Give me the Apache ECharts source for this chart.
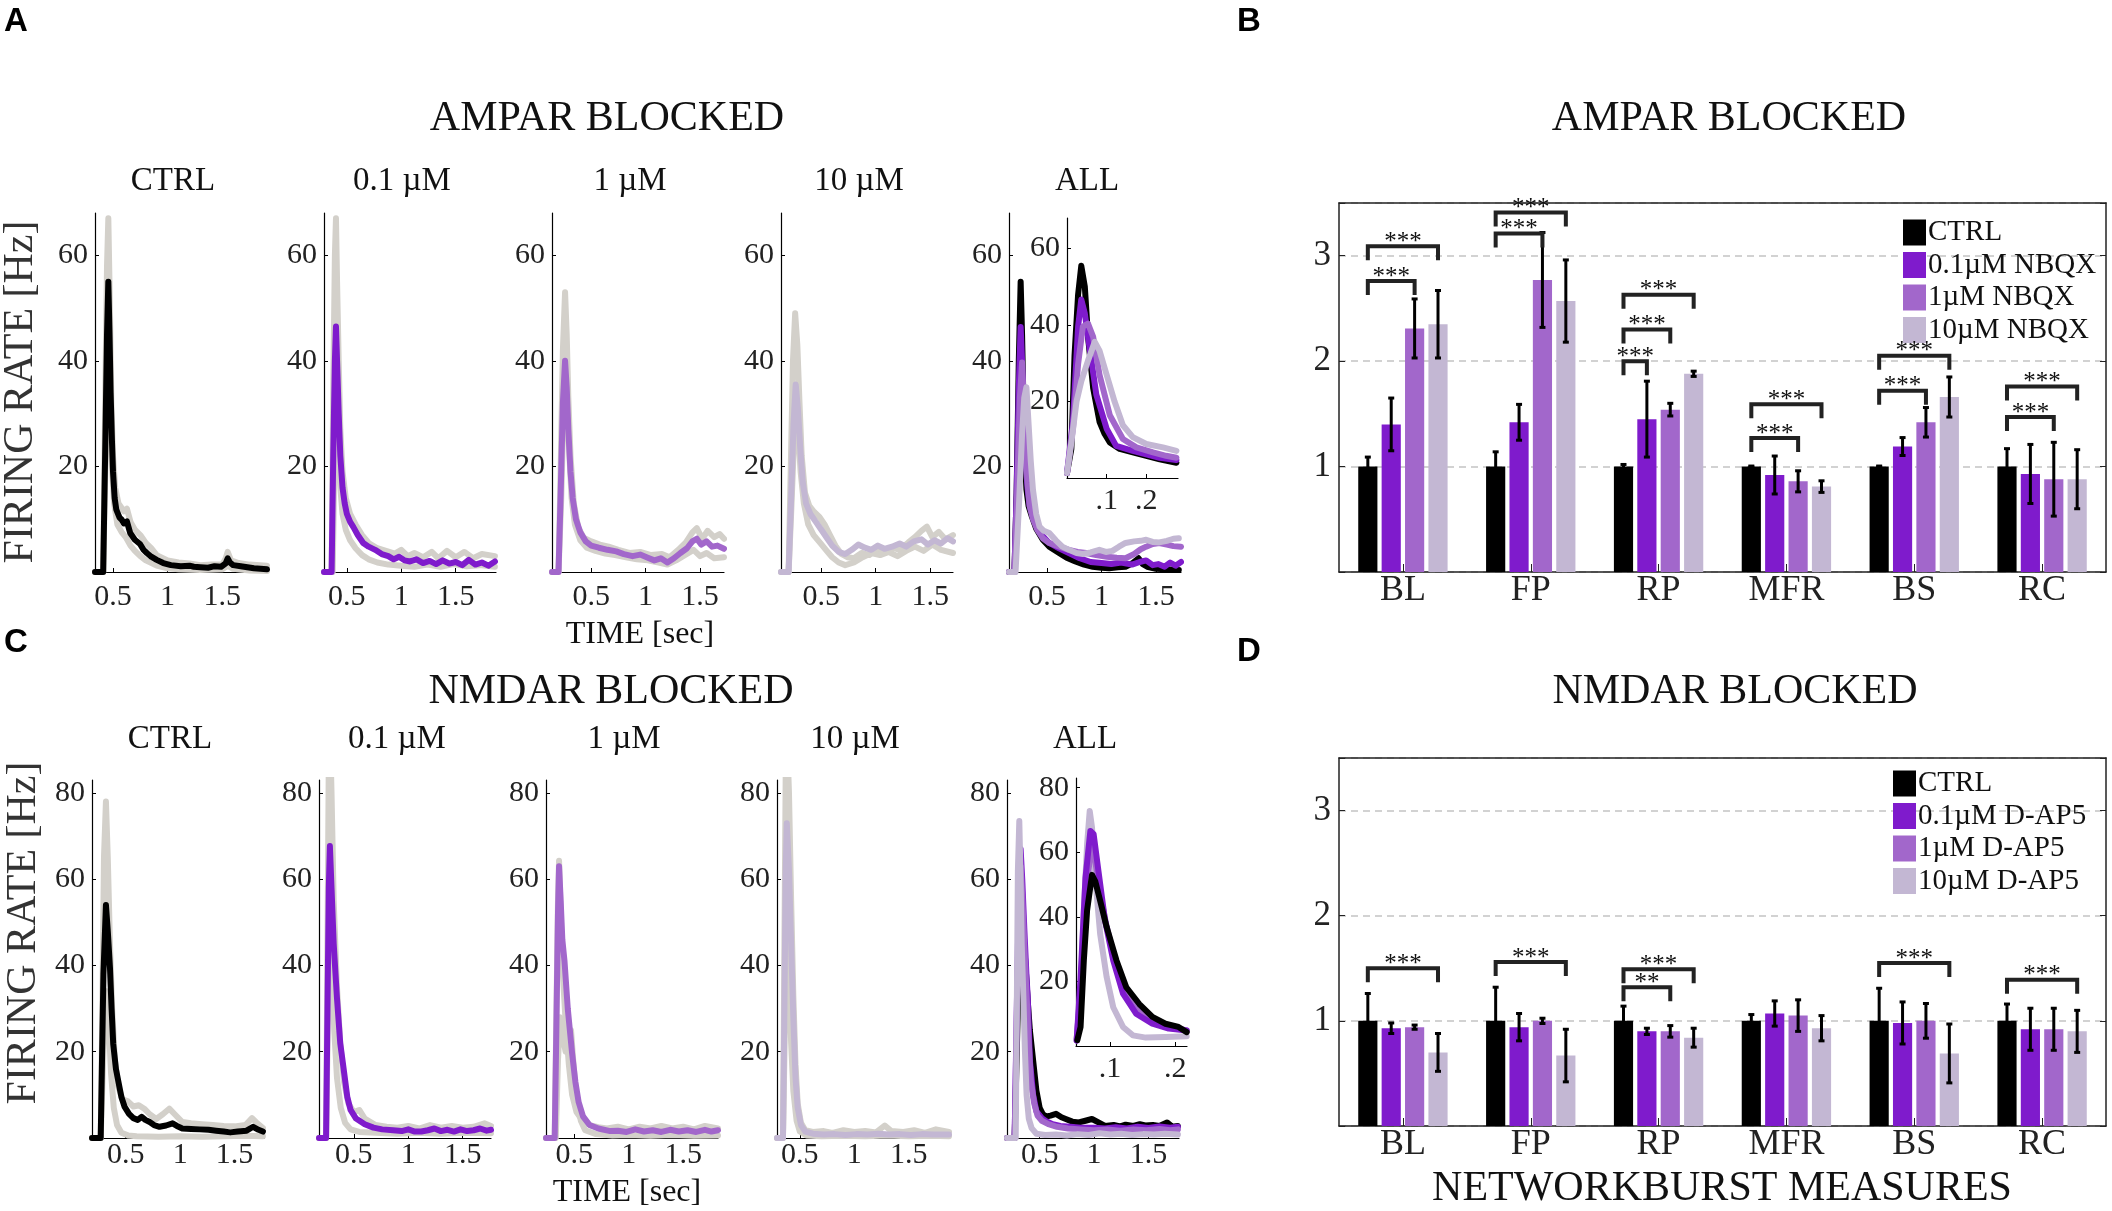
<!DOCTYPE html>
<html><head><meta charset="utf-8">
<script src="https://cdn.jsdelivr.net/npm/echarts@6/dist/echarts.min.js"></script>
<style>html,body{margin:0;padding:0;background:#fff}#c{width:2112px;height:1211px}</style>
</head><body><div id="c"></div>
<script>
// ---------------- DATA ----------------
// Panel A (AMPAR blocked) firing-rate traces [time s, rate Hz]
const ampCtrlMain = [[0.335,0],[0.41,0],[0.43,25],[0.445,45],[0.457,55],[0.468,45],[0.478,34],[0.49,25],[0.5,19],[0.515,14],[0.53,11.8],[0.56,10.3],[0.58,9.9],[0.6,9.2],[0.627,9.6],[0.657,7.4],[0.7,6.1],[0.747,5.3],[0.78,4.2],[0.81,3.6],[0.85,2.9],[0.9,2.3],[0.96,1.7],[1.03,1.3],[1.12,1.1],[1.2,1.2],[1.24,1.0],[1.3,0.9],[1.37,0.8],[1.43,1.1],[1.49,1.0],[1.53,1.6],[1.55,2.6],[1.57,1.8],[1.6,1.3],[1.67,1.1],[1.73,0.9],[1.79,0.7],[1.85,0.6],[1.91,0.5]];
const ampCtrlGray1 = [[0.335,0],[0.41,0],[0.43,35],[0.445,58],[0.457,67],[0.47,52],[0.485,32],[0.5,22],[0.52,16],[0.55,13],[0.6,11.5],[0.627,12],[0.66,9.5],[0.7,8],[0.75,7],[0.8,5.5],[0.85,4.5],[0.9,3.2],[1.0,2.2],[1.1,1.8],[1.2,1.6],[1.3,1.3],[1.4,1.4],[1.5,1.4],[1.53,2.5],[1.55,3.8],[1.58,2.2],[1.65,1.7],[1.75,1.4],[1.91,1.2]];
const ampCtrlGray2 = [[0.335,0],[0.41,0],[0.43,20],[0.45,38],[0.46,42],[0.475,30],[0.49,20],[0.51,13],[0.54,9],[0.58,7.5],[0.62,6.5],[0.66,5],[0.7,4],[0.75,3],[0.8,2.2],[0.9,1.2],[1.0,0.7],[1.1,0.5],[1.3,0.4],[1.5,0.5],[1.55,1.2],[1.6,0.6],[1.75,0.3],[1.91,0.2]];
const amp01Main = [[0.29,0],[0.36,0],[0.375,22],[0.39,40],[0.40,46.5],[0.41,40],[0.425,30],[0.44,22],[0.46,16],[0.48,13],[0.5,11],[0.53,9.5],[0.56,8.5],[0.6,7],[0.65,5.5],[0.7,4.8],[0.76,4.2],[0.82,3.4],[0.88,3.0],[0.93,2.4],[0.98,2.9],[1.03,2.2],[1.08,2.0],[1.14,2.4],[1.2,1.7],[1.26,2.1],[1.32,1.5],[1.38,2.2],[1.44,1.6],[1.5,1.9],[1.56,1.3],[1.62,2.3],[1.68,1.4],[1.74,1.8],[1.8,1.2],[1.86,2.0]];
const amp01Gray1 = [[0.29,0],[0.36,0],[0.375,35],[0.39,60],[0.40,67],[0.41,55],[0.425,40],[0.44,27],[0.46,19],[0.49,14],[0.53,11],[0.58,9],[0.64,7],[0.7,5.5],[0.78,4.5],[0.86,4],[0.94,3.5],[1.0,4.2],[1.06,3],[1.12,3.6],[1.2,2.8],[1.28,3.8],[1.34,2.6],[1.42,4],[1.5,2.8],[1.58,3.8],[1.66,2.6],[1.74,3.4],[1.86,3.0]];
const amp01Gray2 = [[0.29,0],[0.37,0],[0.385,20],[0.4,36],[0.41,33],[0.425,24],[0.44,16],[0.46,11],[0.49,8],[0.53,6],[0.58,4.5],[0.64,3.2],[0.7,2.4],[0.78,1.8],[0.88,1.4],[1.0,1.2],[1.12,1.0],[1.24,1.4],[1.36,1.0],[1.48,1.5],[1.6,1.1],[1.72,1.3],[1.86,1.0]];
const amp1Main = [[0.14,0],[0.2,0],[0.22,15],[0.24,32],[0.26,40],[0.275,35],[0.29,27],[0.31,19],[0.33,14],[0.36,10],[0.4,7.5],[0.45,5.8],[0.5,5],[0.57,4.6],[0.65,4.2],[0.73,3.9],[0.8,3.4],[0.88,3.0],[0.95,3.3],[1.02,2.7],[1.08,2.2],[1.14,2.6],[1.2,1.8],[1.26,2.6],[1.32,3.6],[1.38,4.5],[1.43,5.8],[1.47,6.3],[1.51,5.2],[1.56,5.8],[1.61,4.8],[1.66,5.0],[1.72,4.4]];
const amp1Gray1 = [[0.14,0],[0.2,0],[0.22,20],[0.24,42],[0.26,53],[0.275,45],[0.29,33],[0.31,22],[0.34,13],[0.38,8.5],[0.43,6.5],[0.5,5.8],[0.58,5.2],[0.66,4.8],[0.75,4.2],[0.85,3.6],[0.95,3.8],[1.05,3.2],[1.15,3.4],[1.22,2.8],[1.3,4.2],[1.37,5.6],[1.43,7.5],[1.47,8.3],[1.52,6.3],[1.57,7.8],[1.63,6.6],[1.68,7.2],[1.72,6.3]];
const amp1Gray2 = [[0.14,0],[0.2,0],[0.225,14],[0.245,30],[0.26,37],[0.28,31],[0.3,22],[0.32,14],[0.35,9],[0.4,6],[0.46,4.6],[0.54,4],[0.63,3.5],[0.72,3.2],[0.82,2.8],[0.92,2.4],[1.02,2.2],[1.12,1.8],[1.2,1.4],[1.28,2.2],[1.36,3.2],[1.44,4.2],[1.5,3.0],[1.56,3.6],[1.63,2.6],[1.72,2.8]];
const amp10Main = [[0.13,0],[0.2,0],[0.22,12],[0.245,28],[0.265,35.5],[0.285,31],[0.305,24],[0.33,17],[0.36,13],[0.4,11],[0.45,9.5],[0.5,8],[0.55,6.5],[0.6,5],[0.66,3.8],[0.72,3.4],[0.78,4.2],[0.84,5.2],[0.9,4.6],[0.96,4.2],[1.02,5.0],[1.08,4.4],[1.15,4.8],[1.22,5.4],[1.28,4.8],[1.35,5.8],[1.42,6.2],[1.48,5.2],[1.54,6.0],[1.6,5.4],[1.66,6.4],[1.71,5.8]];
const amp10Gray1 = [[0.13,0],[0.2,0],[0.22,20],[0.24,40],[0.26,49],[0.28,43],[0.3,32],[0.32,22],[0.35,15],[0.39,12.5],[0.43,11.5],[0.48,10.5],[0.53,9],[0.58,7],[0.63,5],[0.68,3.5],[0.74,2.8],[0.8,2.6],[0.87,3.6],[0.94,3.2],[1.0,4.2],[1.08,3.6],[1.15,4.6],[1.22,4.2],[1.3,5.6],[1.36,6.6],[1.42,7.8],[1.47,8.6],[1.52,6.6],[1.58,7.6],[1.64,6.2],[1.71,7.0]];
const amp10Gray2 = [[0.13,0],[0.2,0],[0.225,12],[0.25,25],[0.27,30],[0.29,26],[0.31,19],[0.34,13],[0.38,9],[0.43,7],[0.49,5.5],[0.55,4],[0.6,2.8],[0.66,1.8],[0.72,1.3],[0.8,1.8],[0.88,2.8],[0.96,3.6],[1.04,3.2],[1.12,3.8],[1.2,3.0],[1.28,4.0],[1.36,4.8],[1.44,4.0],[1.52,5.2],[1.6,4.2],[1.71,3.6]];
const ampAllCtrl = [[0.15,0],[0.2,0],[0.22,15],[0.24,40],[0.257,55],[0.27,45],[0.285,30],[0.3,20],[0.31,15.6],[0.33,12.5],[0.36,10.5],[0.4,8.2],[0.46,6.1],[0.52,4.8],[0.61,3.6],[0.68,2.7],[0.76,2.0],[0.84,1.4],[0.92,1.0],[1.0,0.8],[1.07,0.7],[1.15,0.9],[1.22,1.0],[1.28,1.6],[1.34,2.6],[1.38,1.5],[1.42,1.0],[1.5,0.6],[1.6,0.5],[1.71,0.4]];
const ampAll01 = [[0.15,0],[0.2,0],[0.22,15],[0.24,35],[0.257,46.4],[0.27,40],[0.285,30],[0.3,22],[0.32,16],[0.34,12.5],[0.37,10.5],[0.41,8.5],[0.46,6.8],[0.52,5.5],[0.61,4.5],[0.7,3.6],[0.8,2.6],[0.9,1.9],[1.0,1.7],[1.09,1.5],[1.18,1.8],[1.28,1.4],[1.35,1.9],[1.41,2.2],[1.47,1.3],[1.52,1.5],[1.58,1.0],[1.63,1.8],[1.68,1.2],[1.73,1.9]];
const ampAll1 = [[0.15,0],[0.2,0],[0.225,15],[0.25,33],[0.27,39.7],[0.285,33],[0.3,25],[0.32,17],[0.34,12.5],[0.37,10],[0.41,8],[0.46,6.4],[0.52,5.5],[0.61,4.8],[0.7,4.2],[0.78,3.8],[0.86,3.6],[0.95,3.2],[1.05,2.9],[1.14,2.7],[1.22,2.6],[1.3,3.4],[1.36,4.3],[1.41,4.8],[1.47,5.3],[1.53,5.5],[1.6,5.2],[1.66,4.9],[1.73,4.8]];
const ampAll10 = [[0.15,0],[0.21,0],[0.24,12],[0.27,26],[0.29,33],[0.31,35],[0.33,28],[0.35,21],[0.37,15.6],[0.4,11],[0.43,8.6],[0.47,7.8],[0.52,7.4],[0.58,6],[0.64,4.8],[0.7,4.2],[0.77,3.6],[0.83,3.4],[0.9,3.7],[0.98,4.2],[1.04,3.8],[1.1,4.0],[1.16,4.8],[1.22,5.5],[1.3,5.8],[1.36,5.9],[1.41,6.1],[1.47,5.7],[1.53,5.6],[1.6,5.9],[1.66,6.3],[1.71,6.4]];
const ampInsetCtrl = [[0,1.3],[0.011,7.6],[0.019,32],[0.028,48],[0.036,55.5],[0.045,50],[0.053,37],[0.066,23.5],[0.082,14.7],[0.095,11.5],[0.108,9.3],[0.133,7.6],[0.166,6.7],[0.2,5.8],[0.234,4.9],[0.276,4]];
const ampInset01 = [[0,1.3],[0.015,14.7],[0.028,39.6],[0.036,46.7],[0.045,43],[0.057,34],[0.074,21.8],[0.1,12.9],[0.124,8.4],[0.166,7.1],[0.2,6.2],[0.234,5.3],[0.276,4.7]];
const ampInset1 = [[0,1.3],[0.015,12.9],[0.028,29.8],[0.04,39.6],[0.053,40.4],[0.066,36.9],[0.082,27],[0.108,16.4],[0.141,10.2],[0.175,8],[0.217,6.7],[0.25,5.8],[0.276,5.3]];
const ampInset10 = [[0,1.3],[0.011,9.3],[0.024,20],[0.036,25.3],[0.053,30.7],[0.07,35.6],[0.082,33.3],[0.1,27],[0.12,20],[0.141,13.8],[0.166,10.7],[0.2,8.9],[0.242,8],[0.276,7.1]];

// Panel C (NMDAR blocked)
const nmdCtrlMain = [[0.19,0],[0.27,0],[0.28,15],[0.295,38],[0.318,54],[0.335,48],[0.355,39.5],[0.37,30],[0.385,21.8],[0.41,16],[0.43,13.4],[0.46,9.5],[0.49,7.2],[0.53,5.6],[0.57,4.6],[0.61,4.2],[0.646,4.9],[0.68,4.2],[0.72,3.7],[0.76,3.0],[0.81,2.6],[0.87,2.9],[0.93,3.4],[0.97,2.8],[1.02,2.2],[1.1,2.1],[1.18,2.0],[1.26,1.9],[1.33,1.7],[1.4,1.5],[1.46,1.3],[1.53,1.5],[1.61,1.7],[1.67,2.6],[1.72,1.9],[1.76,1.5]];
const nmdCtrlGray1 = [[0.19,0],[0.27,0],[0.285,30],[0.3,65],[0.318,78],[0.335,65],[0.355,45],[0.375,30],[0.4,18],[0.43,12],[0.47,9],[0.52,8.5],[0.57,7.3],[0.62,7.6],[0.67,6.8],[0.72,5.5],[0.78,4.4],[0.84,5.5],[0.9,6.8],[0.95,5.5],[1.02,3.7],[1.1,3.4],[1.2,3.2],[1.3,3.0],[1.4,2.8],[1.5,2.7],[1.6,3.0],[1.66,4.6],[1.7,3.6],[1.76,2.3]];
const nmdCtrlGray2 = [[0.19,0],[0.27,0],[0.285,12],[0.305,28],[0.325,34],[0.345,26],[0.365,15],[0.39,7],[0.42,3],[0.46,1.2],[0.52,0.6],[0.6,0.4],[0.8,0.3],[1.0,0.4],[1.2,0.3],[1.4,0.4],[1.6,0.5],[1.76,0.4]];
const nmd01Main = [[0.18,0],[0.245,0],[0.258,30],[0.27,58],[0.28,67.7],[0.295,58],[0.315,45],[0.345,32.5],[0.375,22],[0.41,15.3],[0.44,9.5],[0.47,6.5],[0.52,4.5],[0.6,3.2],[0.68,2.4],[0.76,2.0],[0.86,1.8],[0.94,1.6],[1.0,2.0],[1.06,1.5],[1.12,1.5],[1.18,1.8],[1.24,2.2],[1.3,1.6],[1.36,1.9],[1.42,1.5],[1.48,2.0],[1.54,1.6],[1.6,1.8],[1.66,2.2],[1.72,1.7],[1.76,1.9]];
const nmd01Gray1 = [[0.18,0],[0.245,0],[0.258,45],[0.27,88],[0.28,96],[0.295,80],[0.315,55],[0.345,35],[0.375,22],[0.41,13],[0.45,8],[0.5,6],[0.55,6.5],[0.6,4.5],[0.7,3],[0.8,2.6],[0.9,2.4],[1.0,2.8],[1.1,2.2],[1.2,3.0],[1.3,2.4],[1.4,2.8],[1.5,2.4],[1.6,2.6],[1.7,3.4],[1.76,2.8]];
const nmd01Gray2 = [[0.18,0],[0.245,0],[0.26,25],[0.275,48],[0.285,52],[0.3,40],[0.32,25],[0.345,14],[0.38,7],[0.42,3.5],[0.47,2],[0.55,1.4],[0.7,1.2],[0.9,1.0],[1.1,1.2],[1.3,1.0],[1.5,1.2],[1.76,1.1]];
const nmd1Main = [[0.24,0],[0.32,0],[0.335,25],[0.35,52],[0.36,63],[0.375,55],[0.39,46],[0.41,41],[0.44,30],[0.48,19.6],[0.51,13],[0.54,8.3],[0.58,5],[0.64,3],[0.72,2.2],[0.83,1.6],[0.9,1.7],[0.98,1.4],[1.06,2.0],[1.14,1.5],[1.22,1.8],[1.3,1.4],[1.38,1.9],[1.46,1.5],[1.54,1.8],[1.62,1.4],[1.7,1.9],[1.76,1.5],[1.82,1.8]];
const nmd1Gray1 = [[0.24,0],[0.32,0],[0.335,28],[0.35,55],[0.36,64.3],[0.375,52],[0.395,38],[0.42,27],[0.45,17],[0.48,10],[0.52,6],[0.57,4.2],[0.64,3],[0.72,2.5],[0.8,2.2],[0.9,2.6],[1.0,2.0],[1.1,2.6],[1.2,2.2],[1.3,2.8],[1.4,2.2],[1.5,2.6],[1.6,2.0],[1.7,2.8],[1.82,2.2]];
const nmd1Gray2 = [[0.24,0],[0.33,0],[0.35,18],[0.37,28],[0.39,24],[0.42,20],[0.45,24],[0.47,25],[0.49,18],[0.52,9],[0.56,4],[0.6,1.8],[0.7,0.9],[0.85,0.6],[1.0,0.7],[1.2,0.5],[1.4,0.7],[1.6,0.5],[1.82,0.6]];
const nmd10Main = [[0.29,0],[0.345,0],[0.358,30],[0.37,62],[0.38,73],[0.4,62],[0.42,45],[0.44,28],[0.46,14],[0.48,7],[0.51,3],[0.55,1.5],[0.62,1.0],[0.72,0.8],[0.82,0.9],[0.92,0.7],[1.02,0.9],[1.12,0.8],[1.22,1.0],[1.32,0.8],[1.42,0.9],[1.52,0.7],[1.62,0.9],[1.72,0.8],[1.87,0.8]];
const nmd10Gray1 = [[0.29,0],[0.345,0],[0.358,45],[0.37,85],[0.38,95],[0.4,80],[0.42,55],[0.44,33],[0.46,17],[0.48,8],[0.51,3.5],[0.55,1.8],[0.62,1.4],[0.72,1.6],[0.8,1.2],[0.9,1.8],[1.0,1.4],[1.1,1.6],[1.2,1.3],[1.28,2.9],[1.34,1.6],[1.45,1.4],[1.55,1.8],[1.65,1.2],[1.75,2.0],[1.87,1.4]];
const nmd10Gray2 = [[0.29,0],[0.345,0],[0.36,22],[0.375,45],[0.385,50],[0.4,38],[0.42,22],[0.44,11],[0.47,4],[0.5,1.5],[0.56,0.6],[0.7,0.4],[0.9,0.5],[1.1,0.4],[1.3,0.6],[1.5,0.4],[1.7,0.5],[1.87,0.4]];
const nmdAllCtrl = [[0.2,0],[0.27,0],[0.29,20],[0.31,42],[0.33,53],[0.35,48],[0.37,40],[0.39,32],[0.41,25],[0.44,18],[0.47,11],[0.5,7],[0.53,5.5],[0.56,5],[0.6,5.2],[0.65,5.6],[0.7,4.8],[0.74,4.4],[0.8,3.8],[0.86,3.6],[0.92,4.0],[0.98,4.4],[1.04,3.6],[1.1,2.8],[1.18,3.0],[1.24,2.7],[1.29,3.1],[1.36,2.8],[1.42,3.2],[1.47,2.9],[1.54,3.0],[1.6,2.8],[1.67,3.6],[1.72,2.6],[1.77,2.8]];
const nmdAll01 = [[0.2,0],[0.27,0],[0.29,30],[0.31,58],[0.325,67],[0.34,60],[0.36,48],[0.38,37],[0.39,33],[0.41,18],[0.44,10],[0.47,6.2],[0.52,4.6],[0.56,3.9],[0.62,3.2],[0.69,2.8],[0.78,2.6],[0.88,2.4],[1.0,2.4],[1.1,2.2],[1.2,2.5],[1.3,2.2],[1.4,2.6],[1.5,2.3],[1.6,2.7],[1.7,2.4],[1.77,2.6]];
const nmdAll1 = [[0.2,0],[0.27,0],[0.29,28],[0.31,54],[0.325,63],[0.34,56],[0.36,44],[0.38,33],[0.4,22],[0.42,13],[0.45,8],[0.48,5.2],[0.52,4],[0.58,3.2],[0.66,2.6],[0.76,2.2],[0.88,2.0],[1.0,1.8],[1.12,2.0],[1.24,1.7],[1.36,2.0],[1.48,1.8],[1.6,2.1],[1.7,1.8],[1.77,2.0]];
const nmdAll10 = [[0.2,0],[0.28,0],[0.29,30],[0.3,62],[0.313,73.5],[0.325,60],[0.335,45],[0.35,33],[0.365,20],[0.38,10],[0.4,4.5],[0.426,2.3],[0.47,1.0],[0.55,0.7],[0.65,0.8],[0.75,0.6],[0.85,0.9],[0.95,0.7],[1.05,1.1],[1.15,0.8],[1.25,1.0],[1.35,0.7],[1.45,0.9],[1.55,0.8],[1.65,1.0],[1.77,0.8]];
const nmdInsetCtrl = [[0.05,1.8],[0.055,5.9],[0.06,26.5],[0.065,42],[0.0725,53],[0.0775,51],[0.085,45],[0.095,36.8],[0.11,26.5],[0.125,18.2],[0.145,13],[0.165,9],[0.185,6.9],[0.205,5.9],[0.2175,4.3]];
const nmdInset01 = [[0.049,1.7],[0.055,21],[0.0625,52],[0.07,66.6],[0.075,65.6],[0.0825,54],[0.0925,38.8],[0.105,26.5],[0.12,16.2],[0.14,10],[0.165,6.9],[0.19,5.4],[0.2175,4.8]];
const nmdInset1 = [[0.049,1.7],[0.055,18],[0.063,45],[0.071,62.5],[0.077,58],[0.085,47],[0.095,37],[0.105,28.5],[0.125,17.2],[0.145,11],[0.175,6.9],[0.2175,4.8]];
const nmdInset10 = [[0.049,2.3],[0.055,16],[0.06,42],[0.065,62.5],[0.069,72.8],[0.0725,67.7],[0.0775,52],[0.085,34.7],[0.095,21.3],[0.105,12],[0.12,5.9],[0.135,3.3],[0.155,2.6],[0.185,2.8],[0.2175,3]];

// Axis ranges and tick labels
const subTitles = ['CTRL','0.1 µM','1 µM','10 µM','ALL'];
const ampXRanges = [[0.335,1.91],[0.29,1.87],[0.14,1.72],[0.13,1.71],[0.15,1.73]];
const nmdXRanges = [[0.19,1.77],[0.18,1.76],[0.24,1.82],[0.29,1.87],[0.2,1.78]];
const ampYMax = 68, nmdYMax = 83;
const timeTicks = [0.5, 1, 1.5];
const ampRateTicks = [20, 40, 60];
const nmdRateTicks = [20, 40, 60, 80];
const insetTimeTicks = [0.1, 0.2];
const ampInsetXRange = [0, 0.28];
const nmdInsetXRange = [0.048, 0.218];

// Panels B / D : network burst measures (normalised to CTRL)
const CATS = ['BL','FP','RP','MFR','BS','RC'];
const ampNames = ['CTRL','0.1µM NBQX','1µM NBQX','10µM NBQX'];
const nmdNames = ['CTRL','0.1µM D-AP5','1µM D-AP5','10µM D-AP5'];
const ampCtrl = [1,1,1,1,1,1];
const amp01   = [1.40,1.42,1.45,0.92,1.19,0.93];
const amp1    = [2.31,2.77,1.54,0.86,1.42,0.88];
const amp10   = [2.35,2.57,1.88,0.81,1.66,0.88];
const ampCtrlErr = [0.09,0.14,0.02,0.005,0.005,0.17];
const amp01Err   = [0.25,0.17,0.36,0.18,0.085,0.28];
const amp1Err    = [0.28,0.45,0.06,0.10,0.14,0.35];
const amp10Err   = [0.32,0.39,0.025,0.055,0.19,0.28];
const nmdCtrl = [1,1,1,1,1,1];
const nmd01   = [0.93,0.94,0.90,1.07,0.98,0.92];
const nmd1    = [0.94,1.00,0.90,1.05,1.00,0.92];
const nmd10   = [0.70,0.67,0.84,0.93,0.69,0.90];
const nmdCtrlErr = [0.26,0.32,0.14,0.06,0.31,0.16];
const nmd01Err   = [0.05,0.13,0.03,0.12,0.20,0.20];
const nmd1Err    = [0.02,0.025,0.055,0.15,0.165,0.20];
const nmd10Err   = [0.18,0.25,0.09,0.12,0.28,0.20];
const barYTicks = [1, 2, 3];
const barYMax = 3.5;
// significance brackets: [category, fromBar, toBar, level, label]
const ampBrackets = [[0,0,2,2.76,'***'],[0,0,3,3.09,'***'],[1,0,2,3.21,'***'],[1,0,3,3.41,'***'],[2,0,1,2.00,'***'],[2,0,2,2.30,'***'],[2,0,3,2.63,'***'],[3,0,2,1.27,'***'],[3,0,3,1.59,'***'],[4,0,2,1.72,'***'],[4,0,3,2.05,'***'],[5,0,2,1.47,'***'],[5,0,3,1.76,'***']];
const nmdBrackets = [[0,0,3,1.50,'***'],[1,0,3,1.56,'***'],[2,0,2,1.32,'**'],[2,0,3,1.49,'***'],[4,0,3,1.55,'***'],[5,0,3,1.39,'***']];

// ---------------- STYLE / LAYOUT ----------------
const FONT = "'Liberation Serif','Times New Roman',Times,serif";
const C_BLACK = '#000000', C_P1 = '#7F1BCC', C_P2 = '#A267CB', C_P3 = '#C3B7D3', C_GRAY = '#D3D0CA';
const COLORS = [C_BLACK, C_P1, C_P2, C_P3];
const BAR_FRAC = 0.15, BAR_GAP = 0.22;

const grids = [], xAxes = [], yAxes = [], series = [];
function addGrid(l, t, w, h) { grids.push({left:l, top:t, width:w, height:h, containLabel:false, outerBoundsMode:'none'}); return grids.length - 1; }

function addLinePanel(l, t, w, h, xr, ymax, xTicks, yTicks, curves, o) {
  const gi = addGrid(l, t, w, h);
  const xa = {type:'value', gridIndex:gi, min:xr[0], max:xr[1],
    axisLine:{show:true, onZero:false, lineStyle:{color:'#000', width:1.2}},
    axisTick:{show:true, inside:true, length:4, customValues:xTicks, lineStyle:{color:'#000'}},
    axisLabel:{show:true, customValues:xTicks, fontFamily:FONT, fontSize:30, color:'#222', margin:o.xMargin},
    splitLine:{show:false}};
  if (o.xFmt) xa.axisLabel.formatter = o.xFmt;
  xAxes.push(xa);
  yAxes.push({type:'value', gridIndex:gi, min:0, max:ymax,
    axisLine:{show:true, onZero:false, lineStyle:{color:'#000', width:1.2}},
    axisTick:{show:true, inside:true, length:4, customValues:yTicks, lineStyle:{color:'#000'}},
    axisLabel:{show:true, customValues:yTicks, fontFamily:FONT, fontSize:30, color:'#222', margin:7},
    splitLine:{show:false}});
  const xi = xAxes.length - 1, yi = yAxes.length - 1;
  curves.forEach(c => series.push({type:'line', xAxisIndex:xi, yAxisIndex:yi, data:c[0], symbol:'none', showSymbol:false,
    clip:true, silent:true, animation:false, z:o.z || 2,
    lineStyle:{color:c[1], width:6, join:'round', cap:'round'}}));
}

// Panel A
const ampPanels = [
  [[ampCtrlGray1,C_GRAY],[ampCtrlGray2,C_GRAY],[ampCtrlMain,C_BLACK]],
  [[amp01Gray1,C_GRAY],[amp01Gray2,C_GRAY],[amp01Main,C_P1]],
  [[amp1Gray1,C_GRAY],[amp1Gray2,C_GRAY],[amp1Main,C_P2]],
  [[amp10Gray1,C_GRAY],[amp10Gray2,C_GRAY],[amp10Main,C_P3]],
  [[ampAllCtrl,C_BLACK],[ampAll01,C_P1],[ampAll1,C_P2],[ampAll10,C_P3]]
];
const ampLefts = [95, 324, 552, 781, 1009];
ampPanels.forEach((p, k) => addLinePanel(ampLefts[k], 213, 172, 359, ampXRanges[k], ampYMax, timeTicks, ampRateTicks, p, {xMargin:10}));
const insetFmt = v => String(v).replace(/^0/, '');
addLinePanel(1067, 218, 111, 260, ampInsetXRange, ampYMax, insetTimeTicks, ampRateTicks,
  [[ampInsetCtrl,C_BLACK],[ampInset01,C_P1],[ampInset1,C_P2],[ampInset10,C_P3]], {xMargin:8, xFmt:insetFmt, z:4});

// Panel C
const nmdPanels = [
  [[nmdCtrlGray1,C_GRAY],[nmdCtrlGray2,C_GRAY],[nmdCtrlMain,C_BLACK]],
  [[nmd01Gray1,C_GRAY],[nmd01Gray2,C_GRAY],[nmd01Main,C_P1]],
  [[nmd1Gray1,C_GRAY],[nmd1Gray2,C_GRAY],[nmd1Main,C_P2]],
  [[nmd10Gray1,C_GRAY],[nmd10Gray2,C_GRAY],[nmd10Main,C_P3]],
  [[nmdAllCtrl,C_BLACK],[nmdAll01,C_P1],[nmdAll1,C_P2],[nmdAll10,C_P3]]
];
const nmdLefts = [92, 319, 546, 777, 1007];
nmdPanels.forEach((p, k) => addLinePanel(nmdLefts[k], 780, 172, 358, nmdXRanges[k], nmdYMax, timeTicks, nmdRateTicks, p, {xMargin:2}));
addLinePanel(1076, 778, 111, 268, nmdInsetXRange, nmdYMax, insetTimeTicks, nmdRateTicks,
  [[nmdInset10,C_P3],[nmdInset1,C_P2],[nmdInset01,C_P1],[nmdInsetCtrl,C_BLACK]], {xMargin:8, xFmt:insetFmt, z:4});

// Bar panels
function barCenter(api, cat, j) {
  const band = api.size([1, 0])[0];
  const step = band * BAR_FRAC * (1 + BAR_GAP);
  return api.coord([cat, 0])[0] + (j - 1.5) * step;
}
function addBarPanel(l, t, w, h, names, means, errs, brackets) {
  const gi = addGrid(l, t, w, h);
  xAxes.push({type:'category', gridIndex:gi, data:CATS, position:'bottom',
    axisLine:{show:true, onZero:false, lineStyle:{color:'#222', width:1.5}},
    axisTick:{show:true, inside:true, alignWithLabel:true, length:8, lineStyle:{color:'#222'}},
    axisLabel:{fontFamily:FONT, fontSize:36, color:'#222', margin:1}, splitLine:{show:false}});
  const xb = xAxes.length - 1;
  xAxes.push({type:'category', gridIndex:gi, data:CATS, position:'top',
    axisLine:{show:true, onZero:false, lineStyle:{color:'#222', width:1.5}},
    axisTick:{show:false}, axisLabel:{show:false}, splitLine:{show:false}});
  yAxes.push({type:'value', gridIndex:gi, min:0, max:barYMax, interval:1, position:'left',
    axisLine:{show:true, onZero:false, lineStyle:{color:'#222', width:1.5}},
    axisTick:{show:true, inside:true, length:6, lineStyle:{color:'#222'}},
    axisLabel:{fontFamily:FONT, fontSize:35, color:'#222', margin:8,
      formatter: v => barYTicks.indexOf(v) >= 0 ? String(v) : ''},
    splitLine:{show:true, lineStyle:{type:[7,5], color:'#c4c4c4', width:1.6}}});
  const yl = yAxes.length - 1;
  yAxes.push({type:'value', gridIndex:gi, min:0, max:barYMax, interval:1, position:'right',
    axisLine:{show:true, onZero:false, lineStyle:{color:'#222', width:1.5}},
    axisTick:{show:true, inside:true, length:6, lineStyle:{color:'#222'}},
    axisLabel:{show:false}, splitLine:{show:false}});
  names.forEach((n, j) => series.push({type:'bar', name:n, xAxisIndex:xb, yAxisIndex:yl, data:means[j],
    barWidth:(BAR_FRAC*100)+'%', barGap:(BAR_GAP*100)+'%', itemStyle:{color:COLORS[j]}, silent:true, animation:false, z:2}));
  const errData = [];
  means.forEach((m, j) => m.forEach((v, i) => errData.push([i, j, v - errs[j][i], v + errs[j][i]])));
  series.push({type:'custom', xAxisIndex:xb, yAxisIndex:yl, data:errData, encode:{x:0, y:2}, silent:true, animation:false, z:3,
    renderItem: (params, api) => {
      const cat = api.value(0), j = api.value(1);
      const cx = barCenter(api, cat, j);
      const y1 = api.coord([cat, api.value(2)])[1], y2 = api.coord([cat, api.value(3)])[1];
      const st = {stroke:'#000', lineWidth:3};
      return {type:'group', children:[
        {type:'line', shape:{x1:cx, y1:y1, x2:cx, y2:y2}, style:st},
        {type:'line', shape:{x1:cx-3, y1:y1, x2:cx+3, y2:y1}, style:st},
        {type:'line', shape:{x1:cx-3, y1:y2, x2:cx+3, y2:y2}, style:st}]};
    }});
  series.push({type:'custom', xAxisIndex:xb, yAxisIndex:yl, data:brackets.map(b => [b[0], b[3]]), encode:{x:0, y:1}, silent:true, animation:false, z:4,
    renderItem: (params, api) => {
      const b = brackets[params.dataIndex];
      const x1 = barCenter(api, b[0], b[1]), x2 = barCenter(api, b[0], b[2]);
      const yL = api.coord([b[0], b[3]])[1];
      return {type:'group', children:[
        {type:'polyline', shape:{points:[[x1, yL+14],[x1, yL],[x2, yL],[x2, yL+14]]}, style:{stroke:'#222', lineWidth:4, fill:null, lineJoin:'miter'}},
        {type:'text', style:{text:b[4], x:(x1+x2)/2, y:yL-4, font:'25px ' + FONT, fill:'#111', align:'center', verticalAlign:'middle', textAlign:'center', textVerticalAlign:'middle'}}]};
    }});
}
addBarPanel(1339, 203, 767, 369, ampNames, [ampCtrl, amp01, amp1, amp10], [ampCtrlErr, amp01Err, amp1Err, amp10Err], ampBrackets);
addBarPanel(1339, 758, 767, 368, nmdNames, [nmdCtrl, nmd01, nmd1, nmd10], [nmdCtrlErr, nmd01Err, nmd1Err, nmd10Err], nmdBrackets);

// Texts
const graphics = [];
function txt(s, x, y, size, opts) {
  opts = opts || {};
  graphics.push({type:'text', x:x, y:y, rotation:opts.rot || 0, silent:true, z:10,
    style:{text:s, x:0, y:0, font:(opts.weight || 'normal') + ' ' + size + 'px ' + (opts.family || FONT), fill:opts.color || '#111',
      align:'center', verticalAlign:'middle', textAlign:'center', textVerticalAlign:'middle'}});
}
const SANS = "'Liberation Sans',Arial,Helvetica,sans-serif";
txt('A', 16, 22, 33, {weight:'bold', family:SANS, color:'#000'});
txt('B', 1249, 22, 33, {weight:'bold', family:SANS, color:'#000'});
txt('C', 16, 643, 33, {weight:'bold', family:SANS, color:'#000'});
txt('D', 1249, 652, 33, {weight:'bold', family:SANS, color:'#000'});
txt('AMPAR BLOCKED', 607, 119, 42);
txt('AMPAR BLOCKED', 1729, 119, 42);
txt('NMDAR BLOCKED', 611, 692, 42);
txt('NMDAR BLOCKED', 1735, 692, 42);
subTitles.forEach((s, k) => txt(s, ampLefts[k] + 78, 181, 33));
subTitles.forEach((s, k) => txt(s, nmdLefts[k] + 78, 739, 33));
txt('TIME [sec]', 640, 635, 32);
txt('TIME [sec]', 627, 1193, 32);
txt('FIRING RATE [Hz]', 21, 392, 42, {rot:Math.PI/2, color:'#333'});
txt('FIRING RATE [Hz]', 24, 933, 42, {rot:Math.PI/2, color:'#333'});
txt('NETWORKBURST MEASURES', 1722, 1189, 42);

const legendBase = {orient:'vertical', padding:0, itemWidth:23, itemHeight:26, itemGap:3.5, icon:'rect', selectedMode:false,
  textStyle:{fontFamily:FONT, fontSize:29, color:'#111', padding:[0,0,0,-3]}};
const option = {
  backgroundColor:'#ffffff',
  animation:false,
  grid:grids, xAxis:xAxes, yAxis:yAxes, series:series,
  legend:[Object.assign({}, legendBase, {data:ampNames, left:1903, top:218}),
          Object.assign({}, legendBase, {data:nmdNames, left:1893, top:769})],
  graphic:{elements:graphics}
};
const chart = echarts.init(document.getElementById('c'), null, {renderer:'canvas'});
chart.setOption(option);
</script></body></html>
